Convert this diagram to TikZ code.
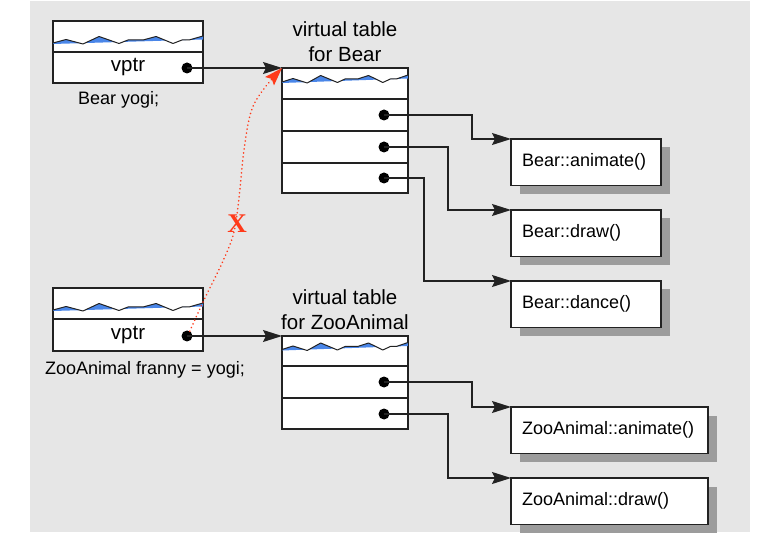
\documentclass[tikz,border=0pt]{standalone}
\usepackage{fontspec}
\setmainfont{Liberation Sans}
\newfontfamily\xfont{Liberation Serif}
\usetikzlibrary{arrows.meta,shadows}
\definecolor{bggray}{HTML}{E6E6E6}
\definecolor{shgray}{HTML}{9C9C9C}
\definecolor{wblue}{HTML}{4A86E8}
\definecolor{xred}{HTML}{FF3A1A}
\definecolor{lnc}{HTML}{222222}
\newcommand\fsz{\fontsize{18}{21}\selectfont}
\newcommand\bsz{\fontsize{20.5}{25}\selectfont}
\newcommand\wavedraw[3]{%
  \begin{scope}[shift={(#1,#3)},xscale=#2]
    \begin{scope}
      \clip (0,0) -- (1,0) -- (1,18.5) -- (0,23) -- cycle;
      \fill[wblue] (0,22) -- (.087,18.5) -- (.2,23) -- (.307,15.5) -- (.44,22.5) -- (.5,19) -- (.6,19) -- (.687,15.5) -- (.8,22.5) -- (.86,19) -- (.907,19) -- (1,15) -- (1,30) -- (0,30) -- cycle;
    \end{scope}
    \draw[line width=1pt, lnc, line join=round] (0,22) -- (.087,18.5) -- (.2,23) -- (.307,15.5) -- (.44,22.5) -- (.5,19) -- (.6,19) -- (.687,15.5) -- (.8,22.5) -- (.86,19) -- (.907,19) -- (1,15);
  \end{scope}}
\tikzset{
  boxn/.style={draw=lnc, fill=white, line width=1.3pt, anchor=north west, inner sep=0pt, outer sep=0pt},
  divline/.style={line width=2.2pt, lnc},
  dotn/.style={circle, fill=black, inner sep=0pt, outer sep=0pt, minimum size=11pt},
  fbox/.style={draw=lnc, fill=white, line width=1.2pt, anchor=north west, outer sep=0pt,
     minimum height=46.5pt, inner xsep=11pt, inner ysep=0pt, align=left, font=\fsz,
     drop shadow={shadow xshift=8.5pt, shadow yshift=-8.5pt, fill=shgray, opacity=1}},
  conn/.style={line width=1.2pt, lnc, -{Stealth[length=19pt,width=12pt,inset=3pt]}},
  redconn/.style={xred, line width=1.8pt, dash pattern=on 0.01pt off 4pt, line cap=round,
     -{Stealth[length=18pt,width=12pt,inset=3pt,fill=xred]}},
  lbl/.style={font=\fsz, inner sep=0pt, anchor=west},
}
\begin{document}
\begin{tikzpicture}[x=1pt,y=-1pt]
\useasboundingbox (0,0) rectangle (782,545);
\fill[white] (0,0) rectangle (782,545);
\fill[bggray] (30,1) rectangle (750,532);

% object Bear yogi
\node[boxn, minimum width=150pt, minimum height=62pt] (obj1) at (53,21) {};
\wavedraw{53}{150}{21}
\draw[divline] (53,52) -- (203,52);
\node[font=\bsz] (vp1) at (128,67) {vptr};
\node[dotn] (o1d) at (187,68) {};
\node[lbl] (lb1) at (78,100) {Bear yogi;};

% object ZooAnimal franny
\node[boxn, minimum width=150pt, minimum height=63pt] (obj2) at (53,288) {};
\wavedraw{53}{150}{288}
\draw[divline] (53,319) -- (203,319);
\node[font=\bsz] (vp2) at (128,335) {vptr};
\node[dotn] (o2d) at (187,336) {};
\node[lbl] (lb2) at (45,370) {ZooAnimal franny = yogi;};

% vtable Bear
\node[font=\bsz, align=center] (vt1) at (345,42) {virtual table\\for Bear};
\node[boxn, minimum width=126pt, minimum height=125pt] (vtb) at (282,68) {};
\wavedraw{282}{126}{60}
\draw[divline] (282,99) -- (408,99);
\draw[divline] (282,131) -- (408,131);
\draw[divline] (282,163) -- (408,163);
\node[dotn] (b1) at (384,115) {};
\node[dotn] (b2) at (384,147) {};
\node[dotn] (b3) at (384,178) {};

% vtable ZooAnimal
\node[font=\bsz, align=center] (vt2) at (345,310) {virtual table\\for ZooAnimal};
\node[boxn, minimum width=126pt, minimum height=93pt] (vtz) at (282,336) {};
\wavedraw{282}{126}{327.5}
\draw[divline] (282,366) -- (408,366);
\draw[divline] (282,398) -- (408,398);
\node[dotn] (z1) at (384,382) {};
\node[dotn] (z2) at (384,414) {};

% function boxes
\node[fbox, text width=128pt] (fba) at (511,139) {Bear::animate()};
\node[fbox, text width=128pt] (fbd) at (511,210) {Bear::draw()};
\node[fbox, text width=128pt] (fbc) at (511,281) {Bear::dance()};
\node[fbox, text width=175pt] (fza) at (511,407) {ZooAnimal::animate()};
\node[fbox, text width=175pt] (fzd) at (511,478) {ZooAnimal::draw()};

% connectors
\draw[conn] (o1d.center) -- (vtb.north west);
\draw[conn] (o2d.center) -- (vtz.north west);
\draw[conn] (b1.center) -| ([xshift=-39pt]fba.north west) -- (fba.north west);
\draw[conn] (b2.center) -| ([xshift=-63pt]fbd.north west) -- (fbd.north west);
\draw[conn] (b3.center) -| ([xshift=-87pt]fbc.north west) -- (fbc.north west);
\draw[conn] (z1.center) -| ([xshift=-39pt]fza.north west) -- (fza.north west);
\draw[conn] (z2.center) -| ([xshift=-63pt]fzd.north west) -- (fzd.north west);

% red dotted arrow
\draw[redconn] plot[smooth, tension=0.6] coordinates {(o2d.60) (204,300) (223,261) (234,232) (239,198) (244,150) (251,112) (263,90) (vtb.north west)};
\node[text=xred, font=\xfont\bfseries\fontsize{27}{27}\selectfont, inner sep=0pt] (xm) at (237,224) {X};
\end{tikzpicture}
\end{document}
